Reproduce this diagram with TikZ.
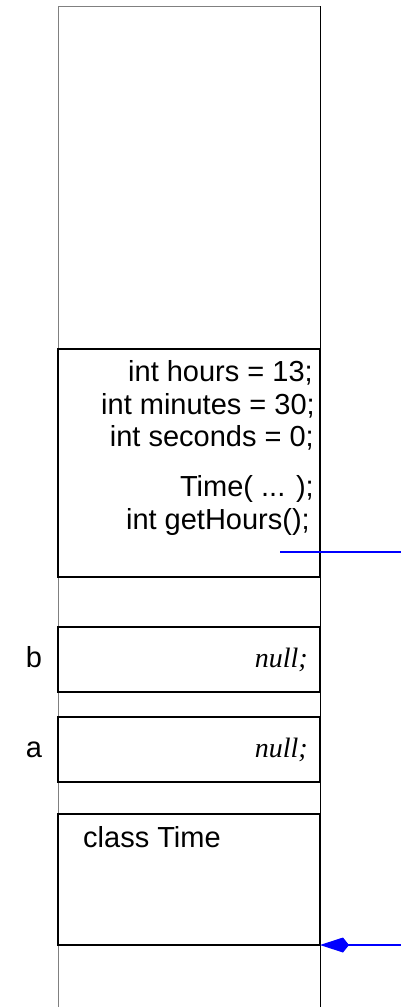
\documentclass[tikz,border=0pt]{standalone}
\usepackage{fontspec}
\setmainfont{Liberation Sans}
\newfontfamily\nulltextfont{Liberation Serif}
\usetikzlibrary{arrows.meta}
\begin{document}
\begin{tikzpicture}[x=1pt,y=-1pt,
  cell/.style={draw=black, line width=1.3pt, minimum width=262pt, anchor=north west, inner sep=0pt, outer sep=0pt},
  txt/.style={font=\fontsize{29}{32}\selectfont, inner sep=0pt, anchor=base east},
  lbl/.style={font=\fontsize{29}{32}\selectfont, inner sep=0pt, anchor=base},
  nul/.style={font=\nulltextfont\itshape\fontsize{28}{32}\selectfont, inner sep=0pt, anchor=base east},
  ptr/.style={draw=blue, line width=1.2pt}]
\useasboundingbox (0,0) rectangle (401,1007);
% stack column
\draw[gray, line width=1pt] (58,1007) -- (58,6) -- (320,6);
\draw[black, line width=1pt] (320,6) -- (320,1007);
% object box
\node[cell, minimum height=228pt] (obj) at (58,349) {};
\node[txt] (f1) at (313,381.7) {int hours = 13;};
\node[txt] (f2) at (315,414) {int minutes = 30;};
\node[txt] (f3) at (314,446.7) {int seconds = 0;};
\node[txt] (m1) at (314,496.7) {Time( ... );};
\node[txt] (m2) at (310,529) {int getHours();};
% variable b
\node[cell, minimum height=65pt] (vb) at (58,627) {};
\node[nul] (nb) at (308,667) {null;};
\node[lbl] (lb) at (34,667) {b};
% variable a
\node[cell, minimum height=65pt] (va) at (58,717) {};
\node[nul] (na) at (308,757) {null;};
\node[lbl] (la) at (34,757) {a};
% class box
\node[cell, minimum height=131pt] (cls) at (58,814) {};
\node[font=\fontsize{29}{32}\selectfont, inner sep=0pt, anchor=base west] (ct) at (83,847) {class Time};
% pointers
\coordinate (pa) at (280,552);
\coordinate (paend) at (401,552);
\draw[ptr] (pa) -- (paend);
\coordinate (pb) at (401,945);
\draw[ptr, -{Kite[length=29pt,width=15pt,inset=6pt]}] (pb) -- (cls.south east);
\end{tikzpicture}
\end{document}
